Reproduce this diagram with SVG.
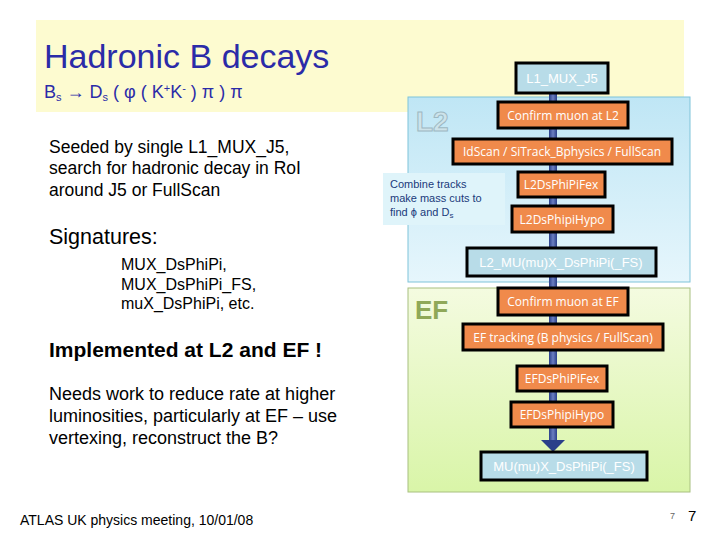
<svg xmlns="http://www.w3.org/2000/svg" width="720" height="540" viewBox="0 0 720 540">
<defs>
<linearGradient id="gL2" x1="0" y1="0" x2="0" y2="1"><stop offset="0" stop-color="#bfe6f5"/><stop offset="1" stop-color="#e6f6fc"/></linearGradient>
<linearGradient id="gEF" x1="0" y1="0" x2="0" y2="1"><stop offset="0" stop-color="#f4fbe0"/><stop offset="1" stop-color="#d9f5a8"/></linearGradient>
<linearGradient id="gBar" x1="0" y1="0" x2="1" y2="0"><stop offset="0" stop-color="#2a3f8a"/><stop offset="0.5" stop-color="#6b7fc0"/><stop offset="1" stop-color="#2a3f8a"/></linearGradient>
</defs>
<style>
.o{fill:#f08a4b;stroke:#000;stroke-width:3}
.b{fill:#b8dce8;stroke:#000;stroke-width:3}
.ot{font-family:"Open Sans","DejaVu Sans",sans-serif;font-size:12px;fill:#fff;text-anchor:middle}
.bt{font-family:"Liberation Sans",sans-serif;font-size:13px;fill:#fff;text-anchor:middle}
.t{font-family:"Liberation Sans",Arial,sans-serif;fill:#000}
</style>
<rect width="720" height="540" fill="#fff"/>
<rect x="36" y="20" width="648" height="92" fill="#fdfbd0"/>
<text x="44" y="68" class="t" font-size="34" style="fill:#2b2ba8">Hadronic B decays</text>
<text x="44" y="98" class="t" font-size="18" style="fill:#2b2ba8">B<tspan font-size="11" dy="3">s</tspan><tspan dy="-3"> → D</tspan><tspan font-size="11" dy="3">s</tspan><tspan dy="-3"> ( φ ( K</tspan><tspan font-size="11" dy="-6">+</tspan><tspan dy="6">K</tspan><tspan font-size="11" dy="-6">-</tspan><tspan dy="6"> ) π ) π</tspan></text>

<g id="L2box"><rect x="408" y="97" width="282" height="185" fill="url(#gL2)" stroke="#7fc3d9"/>
<text x="416" y="131" font-family="Liberation Sans,sans-serif" font-weight="bold" font-size="28" fill="#cde3ea" stroke="#9db8c2" stroke-width="1">L2</text></g>
<g id="EFbox"><rect x="408" y="288" width="282" height="204" fill="url(#gEF)" stroke="#a8c080"/>
<text x="415" y="319" font-family="Liberation Sans,sans-serif" font-weight="bold" font-size="26" fill="#8fa858">EF</text></g>

<g id="connectors">
<rect x="549" y="93" width="8" height="348" fill="url(#gBar)"/>
<polygon points="541,440 565,440 553,452" fill="#2a3f8a"/>
</g>

<g id="n1"><rect class="b" x="516" y="63" width="92" height="30"/><text class="bt" x="562" y="83">L1_MUX_J5</text></g>
<g id="n2"><rect class="o" x="498" y="102" width="130" height="26"/><text class="ot" x="563" y="120">Confirm muon at L2</text></g>
<g id="n3"><rect class="o" x="453" y="139" width="219" height="25"/><text class="ot" x="562" y="156">IdScan / SiTrack_Bphysics / FullScan</text></g>
<g id="note"><rect x="383" y="173" width="122" height="52" fill="#dff4fa"/>
<text class="t" font-size="11" x="390" y="188" style="fill:#1a3a7a">Combine tracks</text>
<text class="t" font-size="11" x="390" y="202" style="fill:#1a3a7a">make mass cuts to</text>
<text class="t" font-size="11" x="390" y="216" style="fill:#1a3a7a">find ϕ  and D<tspan font-size="8" dy="2">s</tspan></text></g>
<g id="n4"><rect class="o" x="518" y="172" width="87" height="25"/><text class="ot" x="561" y="189">L2DsPhiPiFex</text></g>
<g id="n5"><rect class="o" x="512" y="206" width="101" height="26"/><text class="ot" x="562" y="224">L2DsPhipiHypo</text></g>
<g id="n6"><rect class="b" x="467" y="248" width="189" height="28"/><text class="bt" x="561" y="267">L2_MU(mu)X_DsPhiPi(_FS)</text></g>
<g id="n7"><rect class="o" x="498" y="288" width="130" height="27"/><text class="ot" x="563" y="306">Confirm muon at EF</text></g>
<g id="n8"><rect class="o" x="463" y="324" width="200" height="26"/><text class="ot" x="563" y="342">EF tracking (B physics / FullScan)</text></g>
<g id="n9"><rect class="o" x="517" y="366" width="90" height="25"/><text class="ot" x="562" y="383">EFDsPhiPiFex</text></g>
<g id="n10"><rect class="o" x="511" y="402" width="102" height="25"/><text class="ot" x="562" y="419">EFDsPhipiHypo</text></g>
<g id="n11"><rect class="b" x="481" y="452" width="166" height="28"/><text class="bt" x="564" y="471">MU(mu)X_DsPhiPi(_FS)</text></g>

<g class="t" font-size="17.5">
<text x="49" y="153">Seeded by single L1_MUX_J5,</text>
<text x="49" y="174">search for hadronic decay in RoI</text>
<text x="49" y="196">around J5 or FullScan</text>
<text x="49" y="244" font-size="21.5">Signatures:</text>
<text x="121" y="270" font-size="16">MUX_DsPhiPi,</text>
<text x="121" y="290" font-size="16">MUX_DsPhiPi_FS,</text>
<text x="121" y="309" font-size="16">muX_DsPhiPi, etc.</text>
<text x="49" y="357" font-size="21" font-weight="bold">Implemented at L2 and EF !</text>
<text x="49" y="400" font-size="18">Needs work to reduce rate at higher</text>
<text x="49" y="422" font-size="18">luminosities, particularly at EF – use</text>
<text x="49" y="444" font-size="18">vertexing, reconstruct the B?</text>
<text x="20" y="525" font-size="14">ATLAS UK physics meeting, 10/01/08</text>
<text x="670" y="519" font-size="9" style="fill:#666">7</text>
<text x="688" y="521" font-size="15">7</text>
</g>
</svg>
